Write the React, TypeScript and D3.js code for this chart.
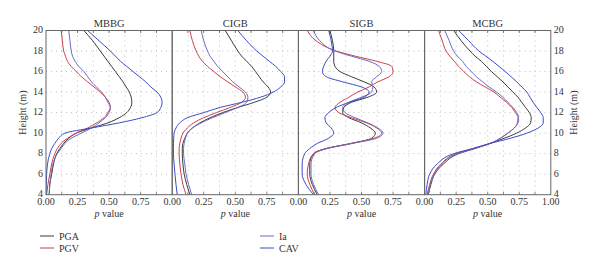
import React from "react";
import * as d3 from "d3";

const heights = [4, 5, 6, 7, 8, 8.5, 9, 9.5, 10, 10.5, 11, 11.5, 12, 12.5, 13, 13.5, 14, 14.5, 15, 15.5, 16, 16.5, 17, 17.5, 18, 19, 20];

const panels = ["MBBG", "CIGB", "SIGB", "MCBG"];
const seriesNames = ["PGA", "PGV", "Ia", "CAV"];
const seriesColors = ["#3a3a3a", "#c8424a", "#6a6ac4", "#3c4cc4"];

// MBBG
const mbbgPGA = [0.026, 0.03, 0.045, 0.06, 0.085, 0.11, 0.14, 0.18, 0.24, 0.36, 0.49, 0.58, 0.64, 0.67, 0.68, 0.675, 0.66, 0.635, 0.61, 0.58, 0.55, 0.52, 0.49, 0.46, 0.43, 0.37, 0.3];
const mbbgPGV = [0.005, 0.015, 0.03, 0.045, 0.07, 0.09, 0.12, 0.17, 0.24, 0.33, 0.4, 0.46, 0.49, 0.51, 0.5, 0.47, 0.43, 0.38, 0.33, 0.28, 0.24, 0.2, 0.17, 0.155, 0.14, 0.13, 0.12];
const mbbgIa = [0.025, 0.03, 0.04, 0.055, 0.09, 0.12, 0.15, 0.2, 0.28, 0.36, 0.42, 0.47, 0.5, 0.51, 0.49, 0.47, 0.44, 0.4, 0.36, 0.33, 0.3, 0.26, 0.23, 0.21, 0.2, 0.19, 0.18];
const mbbgCAV = [0.0, 0.002, 0.005, 0.012, 0.03, 0.045, 0.07, 0.1, 0.15, 0.36, 0.58, 0.76, 0.88, 0.91, 0.92, 0.91, 0.88, 0.83, 0.79, 0.74, 0.69, 0.64, 0.59, 0.55, 0.51, 0.42, 0.33];

// CIGB
const cigbPGA = [0.14, 0.115, 0.095, 0.085, 0.08, 0.08, 0.085, 0.1, 0.12, 0.16, 0.22, 0.3, 0.4, 0.52, 0.65, 0.75, 0.78, 0.76, 0.72, 0.69, 0.66, 0.63, 0.59, 0.55, 0.52, 0.47, 0.42];
const cigbPGV = [0.11, 0.085, 0.07, 0.06, 0.055, 0.055, 0.06, 0.07, 0.085, 0.12, 0.17, 0.25, 0.35, 0.46, 0.55, 0.58, 0.56, 0.5, 0.44, 0.38, 0.33, 0.28, 0.24, 0.21, 0.19, 0.16, 0.14];
const cigbIa = [0.155, 0.13, 0.11, 0.1, 0.09, 0.09, 0.095, 0.105, 0.12, 0.16, 0.23, 0.32, 0.42, 0.52, 0.59, 0.6, 0.58, 0.53, 0.48, 0.44, 0.4, 0.36, 0.33, 0.3, 0.28, 0.25, 0.23];
const cigbCAV = [0.04, 0.03, 0.022, 0.015, 0.01, 0.01, 0.01, 0.012, 0.015, 0.03, 0.06, 0.12, 0.25, 0.38, 0.55, 0.7, 0.8, 0.86, 0.89, 0.89, 0.86, 0.82, 0.77, 0.72, 0.67, 0.59, 0.52];

// SIGB
const sigbPGA = [0.15, 0.11, 0.09, 0.09, 0.12, 0.22, 0.42, 0.58, 0.61, 0.57, 0.5, 0.4, 0.35, 0.36, 0.42, 0.55, 0.62, 0.6, 0.52, 0.42, 0.33, 0.29, 0.28, 0.28, 0.28, 0.27, 0.25];
const sigbPGV = [0.13, 0.09, 0.07, 0.08, 0.12, 0.22, 0.42, 0.6, 0.66, 0.62, 0.54, 0.42, 0.32, 0.29, 0.33, 0.4, 0.47, 0.56, 0.63, 0.72, 0.75, 0.74, 0.62, 0.45, 0.3, 0.14, 0.07];
const sigbIa = [0.16, 0.12, 0.1, 0.1, 0.13, 0.23, 0.43, 0.62, 0.67, 0.63, 0.55, 0.45, 0.37, 0.35, 0.4, 0.5, 0.58, 0.59, 0.58, 0.62, 0.66, 0.64, 0.56, 0.42, 0.29, 0.17, 0.12];
const sigbCAV = [0.12, 0.06, 0.03, 0.03, 0.05, 0.09, 0.15, 0.24, 0.28, 0.26, 0.22, 0.21, 0.24, 0.3, 0.4, 0.52, 0.56, 0.5, 0.35, 0.22, 0.19, 0.2, 0.22, 0.25, 0.27, 0.26, 0.24];

// MCBG
const mcbgPGA = [0.03, 0.05, 0.08, 0.15, 0.27, 0.4, 0.52, 0.63, 0.73, 0.8, 0.84, 0.845, 0.83, 0.8, 0.77, 0.74, 0.7, 0.66, 0.62, 0.575, 0.53, 0.49, 0.45, 0.4, 0.36, 0.29, 0.23];
const mcbgPGV = [0.02, 0.04, 0.07, 0.13, 0.25, 0.39, 0.52, 0.6, 0.66, 0.71, 0.735, 0.74, 0.72, 0.69, 0.65, 0.6, 0.55, 0.48, 0.41, 0.355, 0.31, 0.27, 0.235, 0.2, 0.17, 0.14, 0.11];
const mcbgIa = [0.025, 0.045, 0.075, 0.135, 0.26, 0.39, 0.52, 0.6, 0.66, 0.71, 0.74, 0.745, 0.73, 0.7, 0.66, 0.62, 0.57, 0.51, 0.46, 0.41, 0.37, 0.33, 0.3, 0.26, 0.23, 0.195, 0.16];
const mcbgCAV = [0.01, 0.02, 0.04, 0.1, 0.23, 0.38, 0.52, 0.68, 0.81, 0.9, 0.94, 0.94, 0.92, 0.89, 0.86, 0.835, 0.81, 0.77, 0.73, 0.685, 0.64, 0.59, 0.54, 0.485, 0.43, 0.35, 0.27];

const panelSeries = [
  [mbbgPGA, mbbgPGV, mbbgIa, mbbgCAV],
  [cigbPGA, cigbPGV, cigbIa, cigbCAV],
  [sigbPGA, sigbPGV, sigbIa, sigbCAV],
  [mcbgPGA, mcbgPGV, mcbgIa, mcbgCAV],
];

const xTickValues = [0, 0.25, 0.5, 0.75, 1.0];
const yTickValues = [4, 6, 8, 10, 12, 14, 16, 18, 20];

const W = 600;
const H = 273;
const left = 46;
const panelW = 126.2;
const top = 30.5;
const bottom = 194.7;
const font = "'Liberation Serif', 'Times New Roman', Times, 'DejaVu Serif', serif";

export default function App() {
  const y = d3.scaleLinear().domain([4, 20]).range([bottom, top]);
  const minorX = d3.range(0.125, 1, 0.125);
  return (
    <svg width={W} height={H} style={{ position: "absolute", left: 0, top: 0, background: "#fff", fontFamily: font }}>
      {panels.map((name, pi) => {
        const x0 = left + pi * panelW;
        const x = d3.scaleLinear().domain([0, 1]).range([x0, x0 + panelW]);
        const line = d3
          .line<number>()
          .x((d) => x(d))
          .y((_, i) => y(heights[i]))
          .curve(d3.curveMonotoneY);
        const ticks = pi === 3 ? xTickValues : xTickValues.slice(0, 4);
        return (
          <g key={name}>
            {minorX.map((v) => (
              <line key={"gx" + v} x1={x(v)} x2={x(v)} y1={top} y2={bottom} stroke="#b0b0b0" strokeWidth={0.8} strokeDasharray="1,4" />
            ))}
            {yTickValues.slice(1, -1).map((v) => (
              <line key={"gy" + v} x1={x0} x2={x0 + panelW} y1={y(v)} y2={y(v)} stroke="#b0b0b0" strokeWidth={0.8} strokeDasharray="1,4" />
            ))}
            {minorX.map((v) => (
              <g key={"tk" + v}>
                <line x1={x(v)} x2={x(v)} y1={top} y2={top + 2.5} stroke="#555" strokeWidth={0.8} />
                <line x1={x(v)} x2={x(v)} y1={bottom} y2={bottom - 2.5} stroke="#555" strokeWidth={0.8} />
              </g>
            ))}
            <clipPath id={"clip" + pi}>
              <rect x={x0} y={top} width={panelW} height={bottom - top} />
            </clipPath>
            <g clipPath={`url(#clip${pi})`}>
              {panelSeries[pi].map((vals, si) => (
                <path key={si} d={line(vals) || ""} fill="none" stroke={seriesColors[si]} strokeWidth={1} />
              ))}
            </g>
            <rect x={x0} y={top} width={panelW} height={bottom - top} fill="none" stroke="#666" strokeWidth={1} />
            <text x={x0 + panelW / 2} y={top - 4} textAnchor="middle" fontSize={10.5} fill="#333" fontFamily={font}>
              {name}
            </text>
            {ticks.map((v) => (
              <text key={"xl" + v} x={x(v)} y={bottom + 10.5} textAnchor="middle" fontSize={10} fill="#333" fontFamily={font}>
                {v.toFixed(2)}
              </text>
            ))}
            <text x={x0 + panelW / 2} y={bottom + 22} textAnchor="middle" fontSize={10} fill="#333" fontFamily={font}>
              <tspan fontStyle="italic">p</tspan> value
            </text>
          </g>
        );
      })}
      {yTickValues.map((v) => (
        <g key={"yl" + v}>
          <text x={left - 3} y={y(v) + 2.5} textAnchor="end" fontSize={10} fill="#333" fontFamily={font}>
            {v}
          </text>
          <text x={left + 4 * panelW + 3} y={y(v) + 2.5} textAnchor="start" fontSize={10} fill="#333" fontFamily={font}>
            {v}
          </text>
        </g>
      ))}
      <text transform={`translate(${26},${(top + bottom) / 2}) rotate(-90)`} textAnchor="middle" fontSize={10} fill="#333" fontFamily={font}>
        Height (m)
      </text>
      <text transform={`translate(${577},${(top + bottom) / 2}) rotate(-90)`} textAnchor="middle" fontSize={10} fill="#333" fontFamily={font}>
        Height (m)
      </text>
      {seriesNames.map((s, i) => {
        const lx = i < 2 ? 40 : 260;
        const ly = i % 2 === 0 ? 236 : 248;
        return (
          <g key={s}>
            <line x1={lx} x2={lx + 14} y1={ly} y2={ly} stroke={seriesColors[i]} strokeWidth={1} />
            <text x={lx + 19} y={ly + 3.5} fontSize={10} fill="#333" fontFamily={font}>
              {s}
            </text>
          </g>
        );
      })}
    </svg>
  );
}
